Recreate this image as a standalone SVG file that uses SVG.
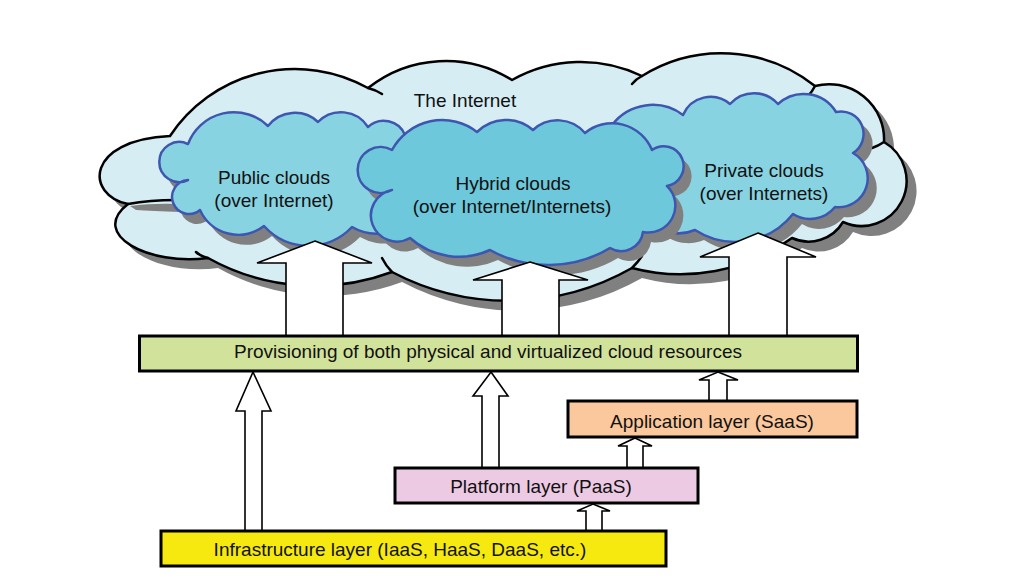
<svg xmlns="http://www.w3.org/2000/svg" width="1023" height="586" viewBox="0 0 1023 586">
<style>
text{font-family:"Liberation Sans",Arial,sans-serif;font-size:19px;fill:#111;text-anchor:middle}
.shadow{fill:#808080;stroke:none}
.outer{fill:#d5edf3;stroke:#000;stroke-width:2.5;stroke-linejoin:round}
.tail{fill:none;stroke:#000;stroke-width:2.5;stroke-linecap:round}
.inner{stroke:#3e56b0;stroke-width:2.5;stroke-linejoin:round}
.pub{fill:#88d3e1}
.hyb{fill:#6cc8da}
.bar{stroke:#000;stroke-width:3}
.arrow{fill:#fff;stroke:#000;stroke-width:1.6;stroke-linejoin:miter}
</style>
<defs>
<path id="internetShape" d="M170,136 A150,150 0 0 1 368,88 A125,125 0 0 1 512,80 A140,140 0 0 1 642,76 A150,150 0 0 1 815,86 A55,55 0 0 1 884,142 A45,45 0 0 1 843,222 A40,40 0 0 1 792,238 A190,190 0 0 1 632,268 A250,250 0 0 1 392,272 A220,220 0 0 1 208,258 C150,266 88,235 128,204 C85,195 85,140 170,136 Z"/>
<path id="publicShape" d="M188,144 A49,49 0 0 1 268,126 A34,34 0 0 1 318,122 A32,32 0 0 1 368,127 A23,23 0 0 1 405,135 A60,60 0 0 1 415,215 A49,49 0 0 1 352,227 A60,60 0 0 1 264,226 A42,42 0 0 1 200,210 A17,17 0 1 1 188,180 A20,20 0 1 1 188,144 Z"/>
<path id="hybridShape" d="M392,150 A57,57 0 0 1 477,132 A41,41 0 0 1 533,130 A36,36 0 0 1 585,133 A43,43 0 0 1 652,150 A20,20 0 1 1 667,186 A27,27 0 0 1 643,232 A22,22 0 0 1 610,248 A120,120 0 0 1 490,250 A74,74 0 0 1 410,238 A26,26 0 1 1 392,190 A23,23 0 1 1 392,150 Z"/>
<path id="privateShape" d="M612,125 A51,51 0 0 1 683,115 A30,30 0 0 1 730,104 A32,32 0 0 1 778,104 A38,38 0 0 1 836,112 A22.5,22.5 0 0 1 853,153 A29,29 0 0 1 835,207 A32,32 0 0 1 793,214 A74,74 0 0 1 695,230 A40,40 0 0 1 640,200 A50,50 0 0 1 612,125 Z"/>
</defs>

<g id="internet">
<use href="#internetShape" class="shadow" transform="translate(10,10)"/>
<use href="#internetShape" class="outer"/>
<path class="shadow" d="M130,206 Q152,203 180,204 L180,212 Q152,211 136,210 Z"/>
<path class="tail" d="M128,204 Q150,200 176,200"/>
<path class="tail" d="M368,88 Q376,90 382,94"/>
<path class="tail" d="M642,76 Q636,79 632,84"/>
<path class="tail" d="M815,86 Q812,92 808,96"/>
<path class="tail" d="M884,142 Q878,146 872,148"/>
<path class="tail" d="M392,272 Q386,266 382,258"/>
<path class="tail" d="M632,268 Q638,262 642,256"/>
<path class="tail" d="M208,258 Q200,256 196,252"/>
<text x="465" y="107">The Internet</text>
</g>

<g id="private-clouds">
<use href="#privateShape" class="shadow" transform="translate(9,10)"/>
<use href="#privateShape" class="inner pub"/>
<text x="764" y="177">Private clouds</text>
<text x="764" y="200">(over Internets)</text>
</g>

<g id="public-clouds">
<use href="#publicShape" class="shadow" transform="translate(8,10)"/>
<use href="#publicShape" class="inner pub"/>
<text x="274" y="184">Public clouds</text>
<text x="274" y="207">(over Internet)</text>
</g>

<g id="hybrid-clouds">
<use href="#hybridShape" class="shadow" transform="translate(8,10)"/>
<use href="#hybridShape" class="inner hyb"/>
<text x="513" y="190">Hybrid clouds</text>
<text x="512" y="213">(over Internet/Internets)</text>
</g>

<g id="connectors">
<path class="arrow" d="M315,241 L372,263 L343,263 L343,336 L286,336 L286,263 L257,263 Z"/>
<path class="arrow" d="M530,262 L588,280 L559,280 L559,336 L502,336 L502,280 L473,280 Z"/>
<path class="arrow" d="M758,233 L816,257 L787,257 L787,336 L729,336 L729,257 L700,257 Z"/>
<path class="arrow" d="M253,372 L271,411 L262,411 L262,531 L245,531 L245,411 L236,411 Z"/>
<path class="arrow" d="M491,372 L508,396 L499,396 L499,468 L482,468 L482,396 L473,396 Z"/>
<path class="arrow" d="M718,372 L738,380 L727,380 L727,401 L709,401 L709,380 L699,380 Z"/>
<path class="arrow" d="M635,438 L652,446 L643,446 L643,468 L627,468 L627,446 L618,446 Z"/>
<path class="arrow" d="M593,504 L610,511 L602,511 L602,531 L586,531 L586,511 L577,511 Z"/>
</g>

<g id="provisioning">
<rect class="bar" x="139.5" y="336" width="718" height="35" fill="#d1e29b"/>
<text x="488" y="358">Provisioning of both physical and virtualized cloud resources</text>
</g>

<g id="application">
<rect class="bar" x="568" y="401" width="289" height="36" fill="#fac89c"/>
<text x="712" y="428">Application layer (SaaS)</text>
</g>

<g id="platform">
<rect class="bar" x="395" y="468" width="303" height="35" fill="#edcae3"/>
<text x="541" y="493">Platform layer (PaaS)</text>
</g>

<g id="infrastructure">
<rect class="bar" x="161" y="531" width="505" height="35" fill="#f5e90f"/>
<text x="400" y="556">Infrastructure layer (IaaS, HaaS, DaaS, etc.)</text>
</g>
</svg>
